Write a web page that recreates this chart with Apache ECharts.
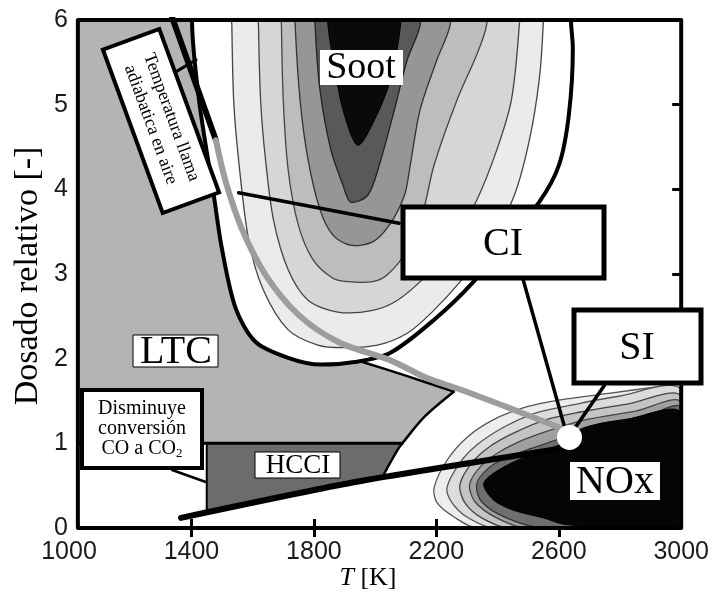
<!DOCTYPE html>
<html>
<head>
<meta charset="utf-8">
<script src="https://cdn.jsdelivr.net/npm/echarts@6/dist/echarts.min.js"></script>
<style>html,body{margin:0;padding:0;background:#fff}#c{width:712px;height:594px}</style>
</head>
<body>
<div id="c"></div>
<script>
// ---- axis ticks ----
const tickT = [1400, 1800, 2200, 2600];
const tickPhi = [1, 2, 3, 4, 5];

// ---- regions (T [K], dosado relativo) ----
const ltcRegion = [[1029,6.4],[1800,6.4],[1800,2.5],[1959,1.96],[2100,1.80],[2257,1.61],[2160,1.31],[2089,1.0],[1029,1.0]];
const sootBoundary = [[1402,6.4],[1402,6.0],[1425,5.05],[1473,3.93],[1499,3.31],[1544,2.60],[1609,2.20],[1716,2.01],[1823,1.93],[1933,1.96],[2050,2.07],[2193,2.46],[2322,2.91],[2429,3.40],[2536,3.85],[2601,4.29],[2633,4.88],[2646,5.67],[2640,6.0],[2640,6.4]];
const soot1 = [[1532,6.4],[1532,5.94],[1538,5.05],[1554,4.35],[1587,3.40],[1635,2.81],[1716,2.34],[1813,2.16],[1895,2.13],[2008,2.16],[2105,2.30],[2186,2.55],[2283,2.93],[2381,3.40],[2455,3.93],[2504,4.58],[2536,5.29],[2549,5.94],[2549,6.4]];
const soot2 = [[1619,6.4],[1619,5.94],[1626,5.05],[1642,4.35],[1668,3.64],[1716,3.05],[1781,2.69],[1878,2.55],[1992,2.57],[2073,2.69],[2170,2.99],[2251,3.34],[2332,3.87],[2397,4.46],[2445,5.05],[2471,5.94],[2471,6.4]];
const soot3 = [[1694,6.4],[1694,5.94],[1700,5.05],[1716,4.23],[1749,3.58],[1797,3.17],[1862,2.95],[1911,2.91],[1992,2.91],[2040,2.99],[2105,3.28],[2154,3.70],[2193,4.29],[2267,5.05],[2332,5.59],[2364,5.94],[2364,6.4]];
const soot4 = [[1739,6.4],[1739,5.94],[1755,5.05],[1781,4.35],[1820,3.76],[1862,3.46],[1920,3.34],[1992,3.38],[2047,3.58],[2096,3.93],[2115,4.29],[2147,4.94],[2202,5.53],[2245,5.94],[2245,6.4]];
const soot5 = [[1804,6.4],[1804,5.94],[1820,5.17],[1856,4.46],[1895,4.05],[1920,3.85],[1976,3.93],[2014,4.29],[2063,4.94],[2105,5.53],[2147,5.94],[2147,6.4]];
const soot6 = [[1846,6.4],[1846,5.94],[1869,5.41],[1895,4.94],[1943,4.52],[1998,4.82],[2050,5.29],[2083,5.94],[2083,6.4]];
const nox1 = [[2193,0.48],[2235,0.80],[2300,1.07],[2387,1.28],[2494,1.43],[2601,1.51],[2763,1.59],[2925,1.67],[3000,1.71],[3000,0],[2332,0],[2258,0.13],[2202,0.30]];
const nox2 = [[2235,0.48],[2277,0.77],[2332,0.98],[2420,1.19],[2526,1.36],[2640,1.45],[2786,1.55],[3000,1.63],[3000,0],[2387,0],[2300,0.13],[2251,0.30]];
const nox3 = [[2277,0.51],[2316,0.77],[2374,0.96],[2452,1.12],[2559,1.28],[2672,1.37],[2818,1.46],[3000,1.55],[3000,0],[2439,0],[2348,0.12],[2293,0.30]];
const nox4 = [[2309,0.52],[2348,0.74],[2407,0.90],[2484,1.04],[2575,1.16],[2689,1.28],[2851,1.38],[3000,1.48],[3000,0],[2494,0],[2397,0.12],[2326,0.31]];
const nox5 = [[2332,0.52],[2371,0.71],[2429,0.83],[2510,0.94],[2591,1.04],[2721,1.22],[2883,1.32],[3000,1.42],[3000,0],[2549,0],[2429,0.12],[2348,0.31]];
const nox6 = [[2355,0.53],[2420,0.72],[2526,0.89],[2601,0.98],[2679,1.18],[2818,1.28],[3000,1.36],[3000,0],[2624,0.04],[2549,0.12],[2452,0.21],[2387,0.33]];
const hcciRegion = [[1450,1.0],[2089,1.0],[2073,0.92],[2050,0.80],[2031,0.65],[2024,0.59],[1930,0.54],[1450,0.18]];

// ---- lines ----
const frame = [[1029,0],[3000,0],[3000,6],[1029,6],[1029,0]];
const phiOneLine = [[1029,1.0],[2089,1.0]];
const hcciLeft = [[1450,1.0],[1450,0.18]];
const ltcTopEdge = [[1959,1.96],[2100,1.80],[2257,1.61]];
const ltcRightEdge = [[2257,1.61],[2160,1.31],[2089,1.0],[2073,0.92],[2031,0.65],[2024,0.59]];
const adiabBlack = [[1335,6.05],[1480,4.58]];
const adiabGray = [[1480,4.58],[1512,4.09],[1564,3.54],[1642,2.99],[1749,2.52],[1878,2.20],[2050,1.98],[2170,1.77],[2267,1.65],[2429,1.43],[2614,1.17]];
const bottomLine = [[1366,0.12],[1930,0.54],[2630,0.95]];
const ptrCI1 = [[1554,3.96],[2079,3.60]];
const ptrCI2 = [[2484,2.93],[2617,1.22]];
const ptrSI = [[2750,1.69],[2653,1.18]];
const ptrTemp = [[1350,5.39],[1415,5.53]];
const ptrDism = [[1337,0.685],[1447,0.543]];
const siPoint = [[2635,1.07]];

function poly(pts, fill, stroke, lw, z, smooth) {
  return {
    type: 'custom', coordinateSystem: 'cartesian2d', clip: true, silent: true, z: z,
    animation: false, data: [[2000, 3]],
    renderItem: function (params, api) {
      return {
        type: 'polygon',
        shape: { points: pts.map(function (p) { return api.coord(p); }), smooth: smooth },
        style: { fill: fill, stroke: stroke || null, lineWidth: lw || 0 }
      };
    }
  };
}
function line(pts, color, width, z, smooth, noClip) {
  return {
    type: 'line', data: pts, symbol: 'none', smooth: smooth || false, silent: true,
    animation: false, z: z, clip: !noClip,
    lineStyle: { color: color, width: width, cap: 'round', join: 'round' }
  };
}

const serif = '"Liberation Serif", "DejaVu Serif", serif';
const sans = '"Liberation Sans", Arial, sans-serif';
function txt(x, y, s, size, extra) {
  return Object.assign({ type: 'text', x: x, y: y, z: 100,
    style: { text: s, font: size + 'px ' + serif, fill: '#000', align: 'center', verticalAlign: 'middle', textAlign: 'center', textVerticalAlign: 'middle' } }, extra || {});
}
function box(x, y, w, h, lw) {
  return { type: 'rect', z: 99, shape: { x: x, y: y, width: w, height: h },
    style: { fill: '#fff', stroke: lw ? '#000' : null, lineWidth: lw || 0 } };
}
function plain(v) { return String(v); }

const chart = echarts.init(document.getElementById('c'), null, { renderer: 'canvas' });
chart.setOption({
  animation: false,
  backgroundColor: '#fff',
  grid: { left: 69, right: 26, top: 20, bottom: 66 },
  xAxis: [
    { type: 'value', min: 1000, max: 3000, interval: 400, position: 'bottom',
      axisLine: { show: false }, splitLine: { show: false },
      axisTick: { show: true, inside: true, length: 9, customValues: tickT, lineStyle: { color: '#000', width: 3 } },
      axisLabel: { fontSize: 25, fontFamily: sans, color: '#1a1a1a', margin: 12, formatter: plain } },
    { type: 'value', min: 1000, max: 3000, interval: 400, position: 'top',
      axisLine: { show: false }, splitLine: { show: false }, axisLabel: { show: false },
      axisTick: { show: true, inside: true, length: 9, customValues: tickT, lineStyle: { color: '#000', width: 3 } } }
  ],
  yAxis: [
    { type: 'value', min: 0, max: 6, interval: 1, position: 'left', offset: -9,
      axisLine: { show: false }, splitLine: { show: false },
      axisTick: { show: true, inside: true, length: 9, customValues: tickPhi, lineStyle: { color: '#000', width: 3 } },
      axisLabel: { fontSize: 25, fontFamily: sans, color: '#1a1a1a', margin: 10, formatter: plain } },
    { type: 'value', min: 0, max: 6, interval: 1, position: 'right',
      axisLine: { show: false }, splitLine: { show: false }, axisLabel: { show: false },
      axisTick: { show: true, inside: true, length: 9, customValues: tickPhi, lineStyle: { color: '#000', width: 3 } } }
  ],
  series: [
    poly(ltcRegion, '#b4b4b4', null, 0, 1, 0),
    poly(sootBoundary, '#ffffff', null, 0, 2, 0.3),
    poly(soot1, '#ebebeb', '#444', 1.3, 3, 0.3),
    poly(soot2, '#d6d6d6', '#444', 1.3, 4, 0.3),
    poly(soot3, '#bdbdbd', '#444', 1.3, 5, 0.3),
    poly(soot4, '#969696', '#333', 1.3, 6, 0.3),
    poly(soot5, '#595959', '#222', 1.3, 7, 0.3),
    poly(soot6, '#0a0a0a', '#000', 1, 8, 0.3),
    poly(nox1, '#ededed', '#555', 1.3, 3, 0.3),
    poly(nox2, '#dcdcdc', '#555', 1.3, 4, 0.3),
    poly(nox3, '#c4c4c4', '#444', 1.3, 5, 0.3),
    poly(nox4, '#a0a0a0', '#444', 1.3, 6, 0.3),
    poly(nox5, '#6e6e6e', '#333', 1.2, 7, 0.3),
    poly(nox6, '#050505', '#000', 1, 8, 0.3),
    poly(hcciRegion, '#6c6c6c', null, 0, 10, 0),
    line(sootBoundary, '#000', 4, 20, 0.3),
    line(ltcTopEdge, '#000', 2.5, 20, 0.3),
    line(ltcRightEdge, '#000', 2.5, 20, 0.3),
    line(phiOneLine, '#000', 3, 20, false),
    line(hcciLeft, '#000', 2, 20, false),
    line(bottomLine, '#000', 6, 22, 0.2),
    line(adiabBlack, '#000', 6, 23, false),
    line(adiabGray, '#9d9d9d', 6, 23, 0.35),
    line(ptrCI1, '#000', 3.5, 24, false),
    line(ptrCI2, '#000', 3.5, 24, false),
    line(ptrSI, '#000', 3.5, 24, false),
    line(ptrTemp, '#000', 3, 24, false),
    line(ptrDism, '#000', 2.5, 24, false),
    { type: 'scatter', data: siPoint, symbol: 'circle', symbolSize: 25, silent: true, z: 30,
      itemStyle: { color: '#ffffff', opacity: 1, borderWidth: 0 }, animation: false },
    line(frame, '#000', 4, 40, false, true)
  ],
  graphic: [
    txt(28, 276, 'Dosado relativo [-]', 34, { rotation: Math.PI / 2 }),
    { type: 'text', x: 368, y: 578, z: 100,
      style: { text: '{i|T} [K]', font: '26px ' + serif, fill: '#000', align: 'center', verticalAlign: 'middle', textAlign: 'center', textVerticalAlign: 'middle',
        rich: { i: { fontStyle: 'italic', fontSize: 26, fontFamily: serif } } } },
    box(320, 50, 83, 35, 0), txt(361, 68, 'Soot', 38),
    box(403, 207, 201, 71, 5), txt(503, 244, 'CI', 40),
    box(574, 310, 127, 73, 5), txt(637, 348, 'SI', 40),
    box(133, 335, 85, 32, 1), txt(176, 352, 'LTC', 40),
    box(255, 452, 85, 26, 1), txt(298, 466, 'HCCI', 27),
    box(570, 462, 90, 38, 0), txt(615, 482, 'NOx', 40),
    box(82, 390, 120, 78, 4),
    txt(142, 409, 'Disminuye', 20),
    txt(142, 429, 'conversión', 20),
    { type: 'text', x: 142, y: 449, z: 100,
      style: { text: 'CO a CO{s|2}', font: '20px ' + serif, fill: '#000', align: 'center', verticalAlign: 'middle', textAlign: 'center', textVerticalAlign: 'middle',
        rich: { s: { fontSize: 13, fontFamily: serif, padding: [9, 0, 0, 0] } } } },
    { type: 'group', x: 161, y: 121, rotation: -1.22, z: 100, children: [
      { type: 'rect', z: 99, shape: { x: -87, y: -30, width: 174, height: 60 }, style: { fill: '#fff', stroke: '#000', lineWidth: 4 } },
      txt(0, -11, 'Temperatura llama', 18),
      txt(0, 11, 'adiabatica en aire', 18)
    ] }
  ]
});
</script>
</body>
</html>
